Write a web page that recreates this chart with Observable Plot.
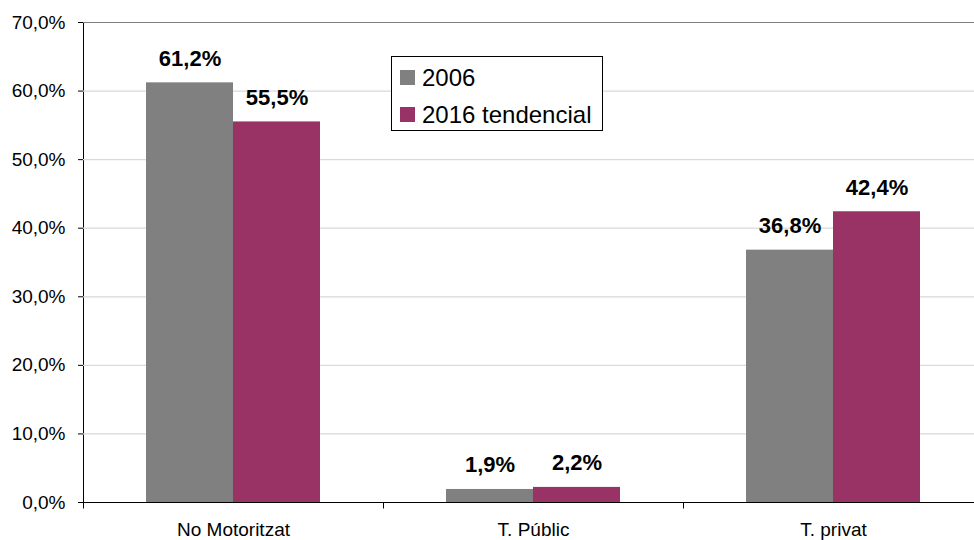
<!DOCTYPE html>
<html>
<head>
<meta charset="utf-8">
<script src="https://cdn.jsdelivr.net/npm/d3@7"></script>
<script src="https://cdn.jsdelivr.net/npm/@observablehq/plot@0.6"></script>
<style>
  body { margin: 0; background: #fff; font-family: "Liberation Sans", Arial, sans-serif; overflow: hidden; }
  #wrap { position: relative; width: 974px; height: 540px; }
  #legend { position: absolute; left: 391px; top: 56px; width: 210px; height: 73px; border: 1px solid #000; background: #fff; font-size: 24px; }
  #legend .item { position: absolute; left: 8px; display: flex; align-items: center; white-space: nowrap; }
  #legend .sw { width: 15px; height: 15px; margin-right: 7px; }
</style>
</head>
<body>
<div id="wrap"><div id="legend"></div></div>
<script>
const categories = ["No Motoritzat", "T. Públic", "T. privat"];
const series = ["2006", "2016 tendencial"];
const values2006 = [61.2, 1.9, 36.8];
const values2016 = [55.5, 2.2, 42.4];
const yTicks = [0, 10, 20, 30, 40, 50, 60, 70];
const colors = ["#808080", "#993366"];

const data = [];
categories.forEach((c, i) => {
  data.push({category: c, series: series[0], value: values2006[i]});
  data.push({category: c, series: series[1], value: values2016[i]});
});
const fmt = d => d.toFixed(1).replace(".", ",") + "%";

const chart = Plot.plot({
  width: 974,
  height: 540,
  marginLeft: 83,
  marginRight: -9,
  marginTop: 22,
  marginBottom: 38,
  style: {fontFamily: "Liberation Sans, Arial, sans-serif", fontSize: "19px", color: "#000", background: "#fff", overflow: "visible"},
  fx: {domain: categories, padding: 0, label: null, tickSize: 0, tickPadding: 20, axis: "bottom"},
  x: {domain: series, paddingInner: 0, paddingOuter: 0.724, axis: null},
  y: {domain: [0, 70], ticks: yTicks, tickFormat: fmt, tickSize: 5, tickPadding: 13, label: null, line: true},
  color: {domain: series, range: colors},
  marks: [
    Plot.ruleY(yTicks.slice(1, -1), {stroke: "#d9d9d9", strokeWidth: 1.3}),
    Plot.ruleY([70], {stroke: "#808080"}),
    Plot.barY(data, {fx: "category", x: "series", y: "value", fill: "series"}),
    Plot.ruleY([0], {stroke: "#000"}),
    Plot.dot(["tick"], {frameAnchor: "bottom-left", symbol: {draw(ctx) { ctx.moveTo(0, 0); ctx.lineTo(0, 6); }}, stroke: "#000", fill: "none", strokeWidth: 1}),
    Plot.text(data, {fx: "category", x: "series", y: "value", text: d => fmt(d.value), lineAnchor: "bottom", dy: -17, fontWeight: "bold", fontSize: 22, fill: "#000"})
  ]
});
document.getElementById("wrap").prepend(chart);

const legend = document.getElementById("legend");
series.forEach((s, i) => {
  const item = document.createElement("div");
  item.className = "item";
  item.style.top = (i === 0 ? 12 : 49) + "px";
  item.style.height = "17px";
  item.innerHTML = `<span class="sw" style="background:${colors[i]}"></span><span>${s}</span>`;
  legend.appendChild(item);
});
</script>
</body>
</html>
